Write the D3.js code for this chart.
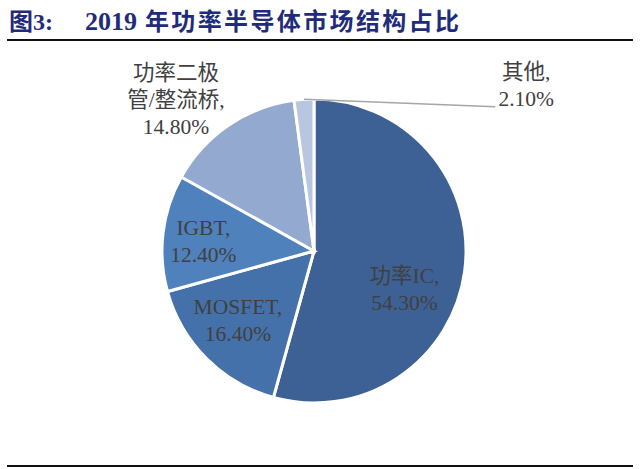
<!DOCTYPE html>
<html>
<head>
<meta charset="utf-8">
<script src="https://cdn.jsdelivr.net/npm/d3@7"></script>
<style>
  html, body { margin: 0; padding: 0; background: #fff; }
  svg { display: block; }
</style>
</head>
<body>
<div id="chart"></div>
<script>
const categories = ['功率IC', 'MOSFET', 'IGBT', '功率二极管/整流桥', '其他']
const shares = [54.3, 16.4, 12.4, 14.8, 2.1]
const labelLines = [
  ['功率IC,', '54.30%'],
  ['MOSFET,', '16.40%'],
  ['IGBT,', '12.40%'],
  ['功率二极', '管/整流桥,', '14.80%'],
  ['其他,', '2.10%']
]

const width = 640
const height = 469
const cx = 314
const cy = 251
const radius = 152

// label nudges from the arc centroid (layout only)
const labelShift = [[-12, 25], [-3, -4], [-8, 3], [-80, -66], [219, -62]]

const color = d3.scaleOrdinal()
  .domain(categories)
  .range(['#3d6194', '#4571aa', '#4f81bd', '#94a9d0', '#b9c6e0'])

const svg = d3.select('#chart')
  .append('svg')
  .attr('width', width)
  .attr('height', height)

// title
const title = svg.append('text')
  .attr('y', 30)
  .attr('fill', '#1f2b7b')
  .attr('font-weight', 'bold')
  .attr('font-size', 24)
  .attr('font-family', '"Liberation Serif", "Noto Sans CJK SC", serif')
title.append('tspan').attr('x', 9).text('图3:')
title.append('tspan').attr('x', 85).attr('font-size', 26).text('2019')
title.append('tspan')
  .attr('x', 145)
  .attr('textLength', 314)
  .attr('lengthAdjust', 'spacing')
  .text('年功率半导体市场结构占比')

svg.append('line')
  .attr('x1', 7).attr('x2', 633)
  .attr('y1', 40).attr('y2', 40)
  .attr('stroke', '#111').attr('stroke-width', 2)

svg.append('line')
  .attr('x1', 7).attr('x2', 633)
  .attr('y1', 466).attr('y2', 466)
  .attr('stroke', '#111').attr('stroke-width', 2)

const pie = d3.pie().sort(null).value(d => d)
const arcs = pie(shares)

const arc = d3.arc().innerRadius(0).outerRadius(radius)
const labelArc = d3.arc().innerRadius(radius * 0.68).outerRadius(radius * 0.68)
const outerArc = d3.arc().innerRadius(radius).outerRadius(radius)

const g = svg.append('g')
  .attr('transform', `translate(${cx},${cy})`)

g.selectAll('path')
  .data(arcs)
  .enter()
  .append('path')
  .attr('d', arc)
  .attr('fill', (d, i) => color(categories[i]))
  .attr('stroke', 'white')
  .attr('stroke-width', 3)
  .attr('stroke-linejoin', 'miter')

// label positions
const labelPos = arcs.map((d, i) => {
  const c = labelArc.centroid(d)
  return [c[0] + labelShift[i][0], c[1] + labelShift[i][1]]
})

// leader line for the small slice
const small = arcs[4]
const p0 = outerArc.centroid(small)
g.append('line')
  .attr('x1', p0[0]).attr('y1', p0[1])
  .attr('x2', labelPos[4][0] - 31).attr('y2', labelPos[4][1] + 21)
  .attr('stroke', '#a6a6a6')
  .attr('stroke-width', 1.5)

const lineGap = 27
const labels = g.selectAll('text.lbl')
  .data(arcs)
  .enter()
  .append('text')
  .attr('class', 'lbl')
  .attr('text-anchor', 'middle')
  .attr('font-size', 21.5)
  .attr('font-family', '"Liberation Serif", "Noto Sans CJK SC", serif')
  .attr('fill', '#404040')

labels.each(function(d, i) {
  const lines = labelLines[i]
  const top = labelPos[i][1] - (lines.length - 1) * lineGap / 2
  d3.select(this).selectAll('tspan')
    .data(lines)
    .enter()
    .append('tspan')
    .attr('x', labelPos[i][0])
    .attr('y', (t, j) => top + j * lineGap)
    .attr('dominant-baseline', 'central')
    .text(t => t)
})
</script>
</body>
</html>
